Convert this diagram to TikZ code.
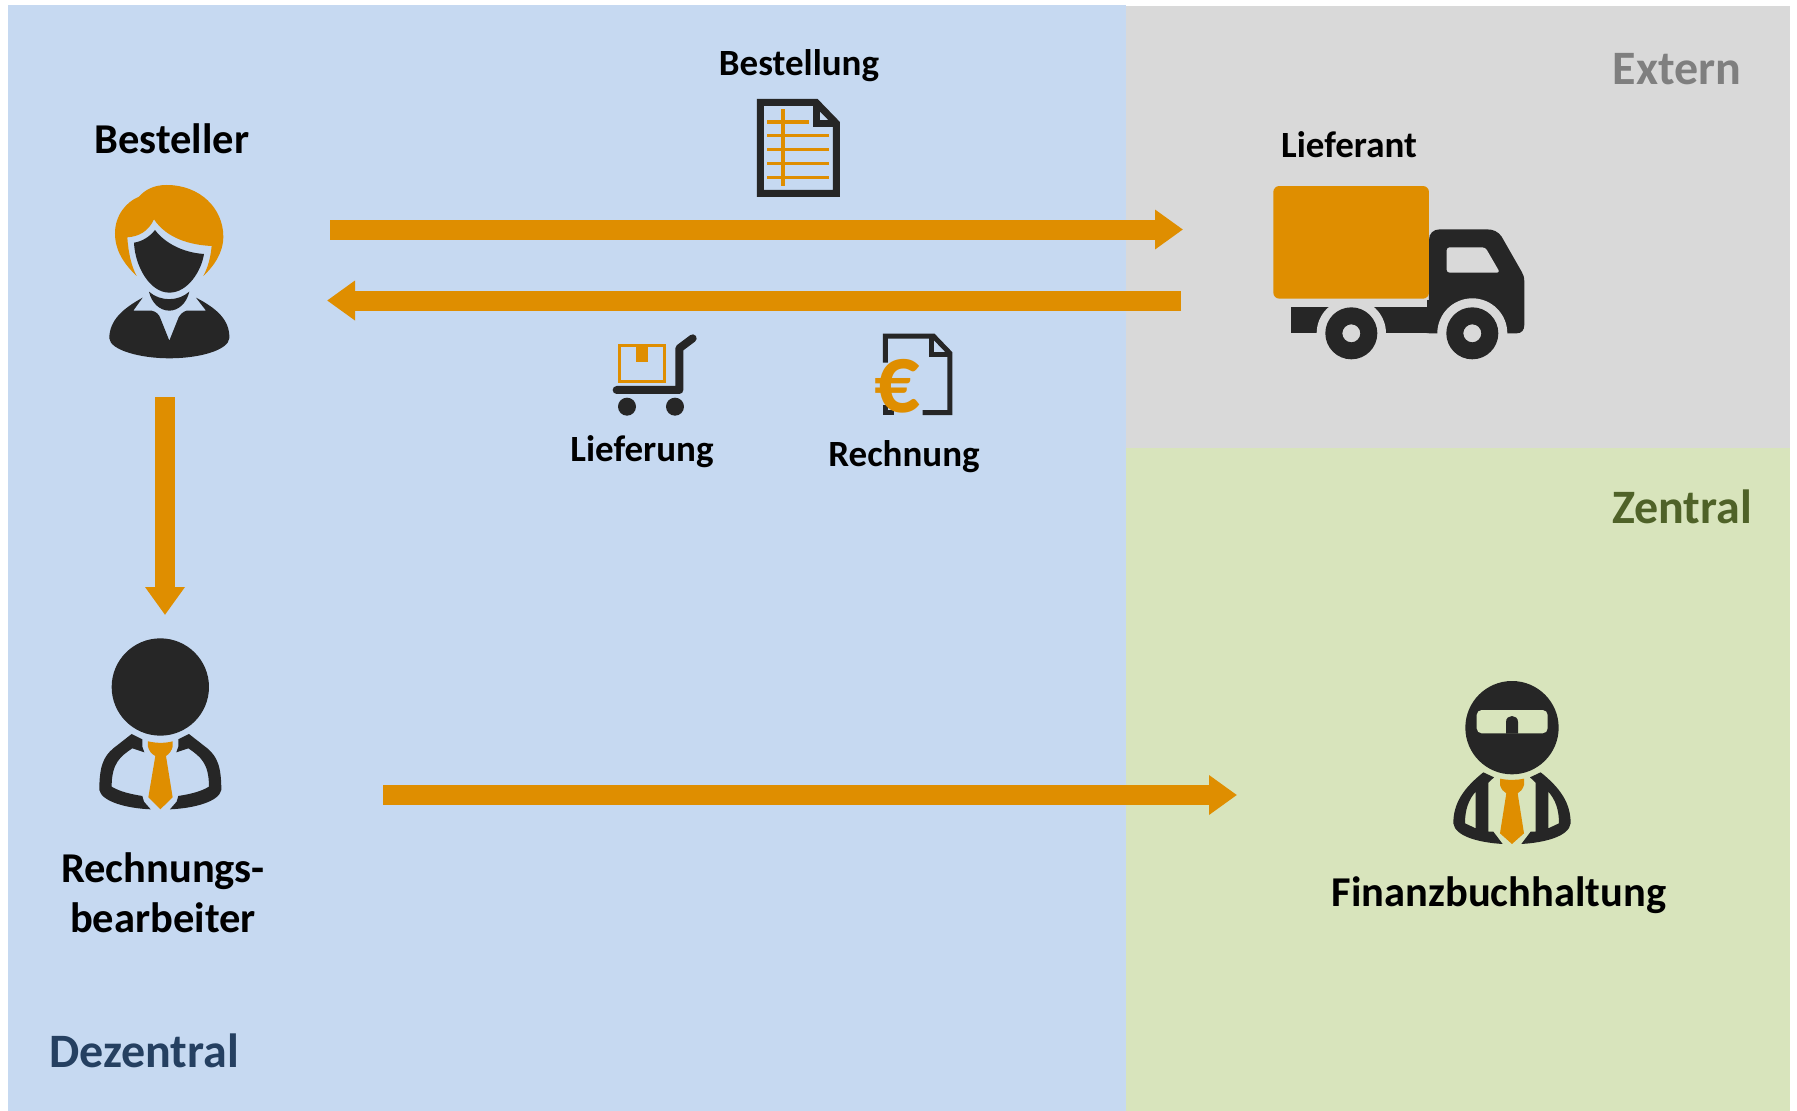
\documentclass[tikz,border=0pt]{standalone}
\usepackage{fontspec}
\setmainfont{Carlito}
\usepackage{tikz}
\usetikzlibrary{arrows.meta,positioning}

\definecolor{dezentralbg}{HTML}{C6D9F1}
\definecolor{externbg}{HTML}{D9D9D9}
\definecolor{zentralbg}{HTML}{D8E4BC}
\definecolor{dezentralfg}{HTML}{254061}
\definecolor{externfg}{HTML}{7F7F7F}
\definecolor{zentralfg}{HTML}{4F6228}
\definecolor{amber}{HTML}{DF8E00}
\definecolor{ink}{HTML}{262626}

\begin{document}
\begin{tikzpicture}[x=1pt,y=-1pt,
		flow/.style = {color=amber, line width=20pt, -{Triangle[width=38pt,length=28pt]}},
		actor/.style = {inner sep=0pt, outer sep=0pt, minimum width=#1},
		lbl/.style = {font=\fontsize{37}{50}\selectfont\bfseries, align=center, inner sep=0pt},
		biglbl/.style = {font=\fontsize{42.5}{50}\selectfont\bfseries, align=center, inner sep=0pt},
		zone/.style = {font=\fontsize{48}{50}\selectfont\bfseries, inner sep=0pt},
		zoomed/.style 2 args = {shift={(#1,#2)}, x=0.3333pt, y=-0.3333pt}
		]
		\useasboundingbox (0,0) rectangle (1797,1111);
		
		%zones
		\fill[dezentralbg] (8,5) rectangle (1126,1111);
		\fill[externbg] (1126,6) rectangle (1790,448);
		\fill[zentralbg] (1126,448) rectangle (1790,1111);
		
		\node (dezentral) [zone,text=dezentralfg] at (144,1051) {Dezentral};
		\node (extern) [zone,text=externfg] at (1677,69) {Extern};
		\node (zentral) [zone,text=zentralfg] at (1682,507) {Zentral};
		
		%invisible boxes round the actors, the arrows run between them
		\node (besteller) [actor=330pt,minimum height=264pt] at (165,265) {};
		\node (lieferant) [actor=340pt,minimum height=264pt,right=853pt of besteller] {};
		\node (rechner) [actor=283pt,minimum height=360pt] at (241.5,795) {};
		\node (fibu) [actor=340pt,minimum height=228pt,right=854pt of rechner] {};
		
		%labels
		\node (lblbesteller) [biglbl] at (172,139) {Besteller};
		\node (lblbestellung) [lbl] at (799,66) {Bestellung};
		\node (lbllieferant) [lbl] at (1349,145) {Lieferant};
		\node (lbllieferung) [lbl] at (642,452) {Lieferung};
		\node (lblrechnung) [lbl] at (904,457) {Rechnung};
		\node (lblrechner) [biglbl] at (163,893) {Rechnungs-\\bearbeiter};
		\node (lblfibu) [biglbl] at (1499,895) {Finanzbuchhaltung};
		
		%arrows
		\draw[flow] ([yshift=35.5pt]besteller.east) -- ([yshift=35.5pt]lieferant.west);
		\draw[flow,shorten <=2pt,shorten >=-3pt] ([yshift=-35.5pt]lieferant.west) -- ([yshift=-35.5pt]besteller.east);
		\draw[flow] (besteller.south) -- (besteller.south |- rechner.north);
		\draw[flow] (rechner.east) -- (fibu.west);
		
		%woman
		\begin{scope}[zoomed={60}{100}]
			\fill[amber] (230,528) .. controls (190,490) and (165,450) .. (165,400)
			.. controls (165,345) and (200,305) .. (237,290)
			.. controls (255,270) and (280,255) .. (320,255)
			.. controls (420,255) and (490,325) .. (490,410)
			.. controls (490,460) and (460,500) .. (430,528)
			.. controls (445,500) and (452,470) .. (455,438)
			.. controls (390,435) and (320,415) .. (282,358)
			.. controls (265,395) and (235,410) .. (202,412)
			.. controls (205,460) and (215,500) .. (230,528) -- cycle;
			\fill[ink] (285,390) .. controls (270,410) and (245,425) .. (222,428)
			.. controls (225,500) and (270,578) .. (328,578)
			.. controls (385,578) and (425,510) .. (432,462)
			.. controls (370,458) and (315,430) .. (285,390) -- cycle;
			\fill[ink] (267,575) .. controls (300,605) and (355,605) .. (388,575)
			.. controls (380,610) and (355,632) .. (328,632)
			.. controls (300,632) and (275,610) .. (267,575) -- cycle;
			\fill[ink] (248,593) -- (220,632) -- (275,632) .. controls (290,635) and (297,645) .. (300,652)
			-- (328,722) -- (356,652) .. controls (360,645) and (368,635) .. (380,632) -- (438,632) -- (408,593)
			.. controls (470,625) and (510,660) .. (508,715)
			.. controls (505,750) and (420,775) .. (328,775)
			.. controls (240,775) and (150,750) .. (148,715)
			.. controls (148,660) and (190,625) .. (248,593) -- cycle;
		\end{scope}
		
		%clerk
		\begin{scope}[zoomed={60}{620}]
			\fill[ink] (301,201) circle [radius=146];
			\foreach \s in {1,-1}
			\fill[ink, shift={(301,0)}, xscale=\s] (-86,342) -- (-54,358) -- (-54,380) -- (-48,397) -- (-84,385)
			.. controls (-121,410) and (-146,430) .. (-146,500)
			.. controls (-121,515) and (-91,522) .. (-54,528)
			-- (-49,545) -- (-29,568)
			.. controls (-101,565) and (-176,545) .. (-183,510)
			.. controls (-183,440) and (-171,410) .. (-141,385) -- cycle;
			\fill[amber] (264,364) .. controls (290,370) and (315,370) .. (338,364) -- (338,380)
			.. controls (335,392) and (328,402) .. (318,408) -- (338,532) -- (301,568) -- (265,532) -- (286,408)
			.. controls (274,402) and (267,392) .. (264,380) -- cycle;
		\end{scope}
		
		%accountant
		\begin{scope}[zoomed={1430}{660}]
			\fill[ink] (246,203) circle [radius=140];
			\fill[zentralbg, rounded corners=5pt] (140,150) rectangle (353,220);
			\fill[ink] (228,221) -- (228,186) .. controls (228,162) and (264,162) .. (264,186) -- (264,221) -- cycle;
			\foreach \s in {1,-1}
			\fill[ink, shift={(246,0)}, xscale=\s, even odd rule] (-86,337) -- (-54,352) -- (-71,368) -- (-71,515) -- (-56,515) -- (-28,552)
			.. controls (-96,548) and (-171,530) .. (-176,490)
			.. controls (-176,430) and (-146,385) .. (-86,337) -- cycle
			(-109,395) -- (-109,505) -- (-141,490) .. controls (-141,450) and (-131,420) .. (-109,395) -- cycle;
			\fill[amber] (210,356) .. controls (235,361) and (258,361) .. (282,356) -- (282,375)
			.. controls (278,388) and (272,395) .. (263,400) -- (282,520) -- (246,552) -- (210,520) -- (229,400)
			.. controls (220,395) and (214,388) .. (210,375) -- cycle;
		\end{scope}
		
		%truck
		\begin{scope}[zoomed={1250}{160}]
			\fill[ink] (122,441) rectangle (537,520);
			\fill[ink] (530,520) -- (537,520) -- (537,240) .. controls (537,220) and (550,208) .. (570,208) -- (710,208)
			.. controls (730,208) and (745,215) .. (755,230) -- (815,335) .. controls (820,345) and (823,350) .. (823,365)
			-- (823,495) .. controls (823,510) and (815,520) .. (800,520) -- cycle;
			\fill[ink] (530,420) rectangle (800,520);
			\fill[externbg] (304,520) circle [radius=104];
			\fill[externbg] (667,520) circle [radius=105];
			\fill[externbg] (112,521) rectangle (830,600);
			\fill[ink, even odd rule] (304,520) circle [radius=78] (304,520) circle [radius=27];
			\fill[ink, even odd rule] (667,520) circle [radius=78] (667,520) circle [radius=27];
			\fill[externbg, rounded corners=3pt] (590,262) -- (706,262) -- (750,338) -- (590,338) -- cycle;
			\fill[amber, rounded corners=6pt] (70,78) -- (537,78) -- (537,416) [sharp corners] -- (90,416) [rounded corners=6pt] -- (70,416) -- cycle;
		\end{scope}
		
		%order sheet
		\begin{scope}[zoomed={740}{90}]
			\draw[ink, line width=7pt] (61,37) -- (228,37) -- (289,100) -- (289,310) -- (61,310) -- cycle;
			\draw[ink, line width=7pt] (228,37) -- (228,102) -- (289,102);
			\draw[amber, line width=3.5pt] (129,58) -- (129,288);
			\draw[amber, line width=3.5pt] (82,96) -- (207,96);
			\foreach \y in {137,179,220,262}
			\draw[amber, line width=3.5pt] (82,\y) -- (268,\y);
		\end{scope}
		
		%cart and invoice
		\begin{scope}[zoomed={590}{320}]
			\draw[amber, line width=2.5pt] (89,76) rectangle (224,185);
			\fill[amber] (138,75) rectangle (175,125);
			\draw[ink, line width=8pt, line cap=round, line join=round] (308,55) -- (268,85) -- (268,210) -- (80,210);
			\fill[ink] (111,260) circle [radius=27];
			\fill[ink] (255,260) circle [radius=27];
			\draw[ink, line width=5pt] (886,128) -- (886,48) -- (1030,48) -- (1080,100) -- (1080,278) -- (998,278);
			\draw[ink, line width=5pt] (1025,50) -- (1025,102) -- (1078,102);
			\draw[ink, line width=5pt] (886,255) -- (886,278) -- (912,278);
			\node (euro) [font=\fontsize{98}{98}\selectfont\bfseries,text=amber,inner sep=0pt,xscale=0.92] at (922,198) {€};
		\end{scope}
		
		\end{tikzpicture}
\end{document}
